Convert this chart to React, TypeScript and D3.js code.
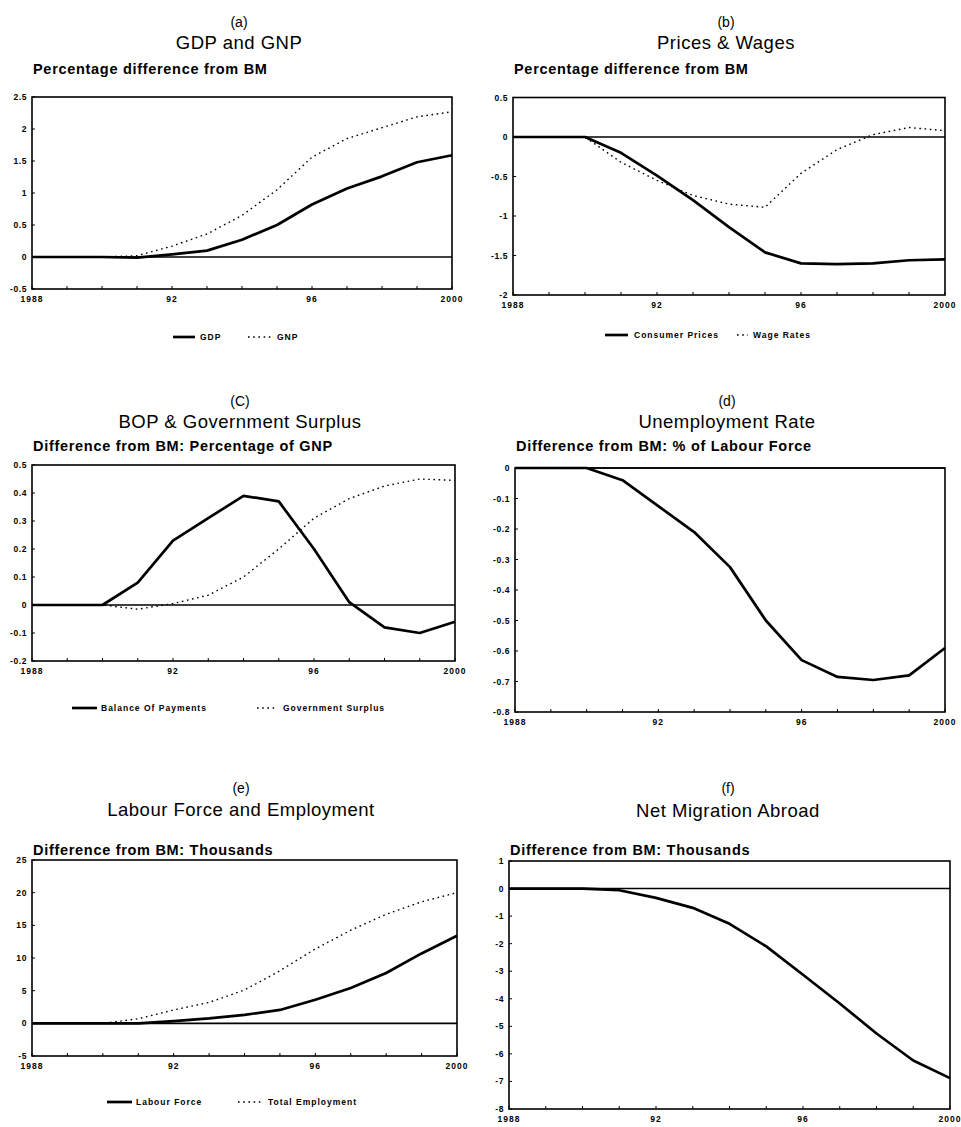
import React from "react";
import * as d3 from "d3";

const YEARS = [1988, 1989, 1990, 1991, 1992, 1993, 1994, 1995, 1996, 1997, 1998, 1999, 2000];
const X_TICK_YEARS = [1988, 1992, 1996, 2000];
const X_TICK_LABELS = ["1988", "92", "96", "2000"];

const GDP = [0, 0, 0, -0.01, 0.04, 0.1, 0.27, 0.5, 0.82, 1.07, 1.26, 1.48, 1.59];
const GNP = [0, 0, 0, 0.02, 0.17, 0.36, 0.65, 1.05, 1.56, 1.85, 2.02, 2.19, 2.27];
const CONSUMER_PRICES = [0, 0, 0, -0.2, -0.49, -0.8, -1.14, -1.46, -1.6, -1.61, -1.6, -1.56, -1.55];
const WAGE_RATES = [0, 0, 0, -0.32, -0.55, -0.74, -0.85, -0.89, -0.46, -0.16, 0.03, 0.12, 0.08];
const BOP = [0, 0, 0, 0.08, 0.23, 0.31, 0.39, 0.37, 0.2, 0.01, -0.08, -0.1, -0.06];
const GOV_SURPLUS = [0, 0, 0, -0.015, 0.005, 0.035, 0.1, 0.2, 0.31, 0.38, 0.425, 0.45, 0.445];
const UNEMPLOYMENT = [0, 0, 0, -0.04, -0.125, -0.21, -0.325, -0.5, -0.63, -0.685, -0.695, -0.68, -0.59];
const LABOUR_FORCE = [0, 0, 0, 0, 0.35, 0.75, 1.3, 2.05, 3.6, 5.4, 7.7, 10.7, 13.4];
const TOTAL_EMPLOYMENT = [0, 0, 0, 0.7, 2.05, 3.2, 5.1, 8.05, 11.4, 14.25, 16.7, 18.6, 20.0];
const NET_MIGRATION = [0, 0, 0, -0.06, -0.34, -0.7, -1.28, -2.1, -3.13, -4.17, -5.26, -6.24, -6.88];

const TICKS_A = [2.5, 2, 1.5, 1, 0.5, 0, -0.5];
const TICKS_B = [0.5, 0, -0.5, -1, -1.5, -2];
const TICKS_C = [0.5, 0.4, 0.3, 0.2, 0.1, 0, -0.1, -0.2];
const TICKS_D = [0, -0.1, -0.2, -0.3, -0.4, -0.5, -0.6, -0.7, -0.8];
const TICKS_E = [25, 20, 15, 10, 5, 0, -5];
const TICKS_F = [1, 0, -1, -2, -3, -4, -5, -6, -7, -8];

type Series = { name: string; values: number[]; dotted: boolean };
type Legend = { y: number; items: { x1: number; x2: number; tx: number }[] };
type Panel = {
  letter: string;
  title: string;
  subtitle: string;
  cx: number;
  letterY: number;
  titleY: number;
  subY: number;
  left: number;
  right: number;
  top: number;
  bottom: number;
  ticks: number[];
  series: Series[];
  legend?: Legend;
};

const PANELS: Panel[] = [
  {
    letter: "(a)", title: "GDP and GNP", subtitle: "Percentage difference from BM",
    cx: 239, letterY: 27, titleY: 49, subY: 74,
    left: 32, right: 452, top: 97, bottom: 289, ticks: TICKS_A,
    series: [
      { name: "GDP", values: GDP, dotted: false },
      { name: "GNP", values: GNP, dotted: true },
    ],
    legend: { y: 337, items: [{ x1: 173, x2: 195, tx: 200 }, { x1: 248, x2: 272, tx: 277 }] },
  },
  {
    letter: "(b)", title: "Prices & Wages", subtitle: "Percentage difference from BM",
    cx: 726, letterY: 27, titleY: 49, subY: 74,
    left: 513, right: 945, top: 97.5, bottom: 295, ticks: TICKS_B,
    series: [
      { name: "Consumer Prices", values: CONSUMER_PRICES, dotted: false },
      { name: "Wage Rates", values: WAGE_RATES, dotted: true },
    ],
    legend: { y: 335, items: [{ x1: 605, x2: 628, tx: 634 }, { x1: 737, x2: 748, tx: 753 }] },
  },
  {
    letter: "(C)", title: "BOP & Government Surplus", subtitle: "Difference from BM: Percentage of GNP",
    cx: 240, letterY: 406, titleY: 428, subY: 451,
    left: 32, right: 455, top: 465, bottom: 661, ticks: TICKS_C,
    series: [
      { name: "Balance Of Payments", values: BOP, dotted: false },
      { name: "Government Surplus", values: GOV_SURPLUS, dotted: true },
    ],
    legend: { y: 708, items: [{ x1: 72, x2: 97, tx: 101 }, { x1: 257, x2: 276, tx: 283 }] },
  },
  {
    letter: "(d)", title: "Unemployment Rate", subtitle: "Difference from BM: % of Labour Force",
    cx: 727, letterY: 406, titleY: 428, subY: 451,
    left: 515, right: 945, top: 468, bottom: 712, ticks: TICKS_D,
    series: [{ name: "Unemployment", values: UNEMPLOYMENT, dotted: false }],
  },
  {
    letter: "(e)", title: "Labour Force and Employment", subtitle: "Difference from BM: Thousands",
    cx: 241, letterY: 793, titleY: 816, subY: 855,
    left: 32, right: 457, top: 860, bottom: 1056, ticks: TICKS_E,
    series: [
      { name: "Labour Force", values: LABOUR_FORCE, dotted: false },
      { name: "Total Employment", values: TOTAL_EMPLOYMENT, dotted: true },
    ],
    legend: { y: 1102, items: [{ x1: 107, x2: 132, tx: 136 }, { x1: 238, x2: 262, tx: 268 }] },
  },
  {
    letter: "(f)", title: "Net Migration Abroad", subtitle: "Difference from BM: Thousands",
    cx: 728, letterY: 793, titleY: 817, subY: 855,
    left: 509, right: 950, top: 861, bottom: 1109, ticks: TICKS_F,
    series: [{ name: "Net Migration", values: NET_MIGRATION, dotted: false }],
  },
];

const FONT = "'Liberation Sans', Arial, Helvetica, sans-serif";

function ChartPanel({ p }: { p: Panel }) {
  const x = d3.scaleLinear().domain([1988, 2000]).range([p.left, p.right]);
  const yMax = d3.max(p.ticks) as number;
  const yMin = d3.min(p.ticks) as number;
  const y = d3.scaleLinear().domain([yMin, yMax]).range([p.bottom, p.top]);
  const line = d3
    .line<number>()
    .x((_, i) => x(YEARS[i]))
    .y((v) => y(v));
  return (
    <g>
      <text x={p.cx} y={p.letterY} textAnchor="middle" fontSize={14} fontFamily={FONT}>{p.letter}</text>
      <text x={p.cx} y={p.titleY} textAnchor="middle" fontSize={18.5} letterSpacing={0.5} fontFamily={FONT}>{p.title}</text>
      <text x={p.left + 1} y={p.subY} fontSize={14.5} letterSpacing={0.7} fontFamily={FONT} fontWeight={600}>{p.subtitle}</text>
      {/* zero line */}
      <line x1={p.left} x2={p.right} y1={y(0)} y2={y(0)} stroke="#000" strokeWidth={1.6} />
      {/* series */}
      {p.series.map((s) => (
        <path
          key={s.name}
          d={line(s.values) || ""}
          fill="none"
          stroke="#000"
          strokeWidth={s.dotted ? 1.4 : 2.7}
          strokeDasharray={s.dotted ? "1.6,3.6" : undefined}
          strokeLinejoin="round"
        />
      ))}
      {/* frame */}
      <rect x={p.left} y={p.top} width={p.right - p.left} height={p.bottom - p.top} fill="none" stroke="#000" strokeWidth={1.6} />
      {/* y ticks */}
      {p.ticks.map((t) => (
        <g key={"y" + t}>
          <line x1={p.left} x2={p.left + 3} y1={y(t)} y2={y(t)} stroke="#000" strokeWidth={1} />
          <text x={p.left - 5} y={y(t) + 3} textAnchor="end" fontSize={8.5} letterSpacing={0.6} fontWeight="bold" fontFamily={FONT}>{t}</text>
        </g>
      ))}
      {/* x ticks */}
      {YEARS.map((yr) => (
        <line key={"x" + yr} x1={x(yr)} x2={x(yr)} y1={p.bottom} y2={p.bottom - 3} stroke="#000" strokeWidth={1} />
      ))}
      {X_TICK_YEARS.map((yr, i) => (
        <text key={"xl" + yr} x={x(yr)} y={p.bottom + 13} textAnchor="middle" fontSize={8.5} letterSpacing={1} fontWeight="bold" fontFamily={FONT}>
          {X_TICK_LABELS[i]}
        </text>
      ))}
      {/* legend */}
      {p.legend &&
        p.series.map((s, i) => {
          const it = p.legend!.items[i];
          return (
            <g key={"lg" + s.name}>
              <line
                x1={it.x1}
                x2={it.x2}
                y1={p.legend!.y}
                y2={p.legend!.y}
                stroke="#000"
                strokeWidth={s.dotted ? 1.4 : 2.7}
                strokeDasharray={s.dotted ? "1.6,3.6" : undefined}
              />
              <text x={it.tx} y={p.legend!.y + 3} fontSize={8.5} letterSpacing={1} fontWeight="bold" fontFamily={FONT}>{s.name}</text>
            </g>
          );
        })}
    </g>
  );
}

export default function App() {
  return (
    <svg
      width={961}
      height={1127}
      viewBox="0 0 961 1127"
      style={{ position: "absolute", left: 0, top: 0, background: "#fff" }}
    >
      <rect x={0} y={0} width={961} height={1127} fill="#fff" />
      {PANELS.map((p) => (
        <ChartPanel key={p.letter} p={p} />
      ))}
    </svg>
  );
}
